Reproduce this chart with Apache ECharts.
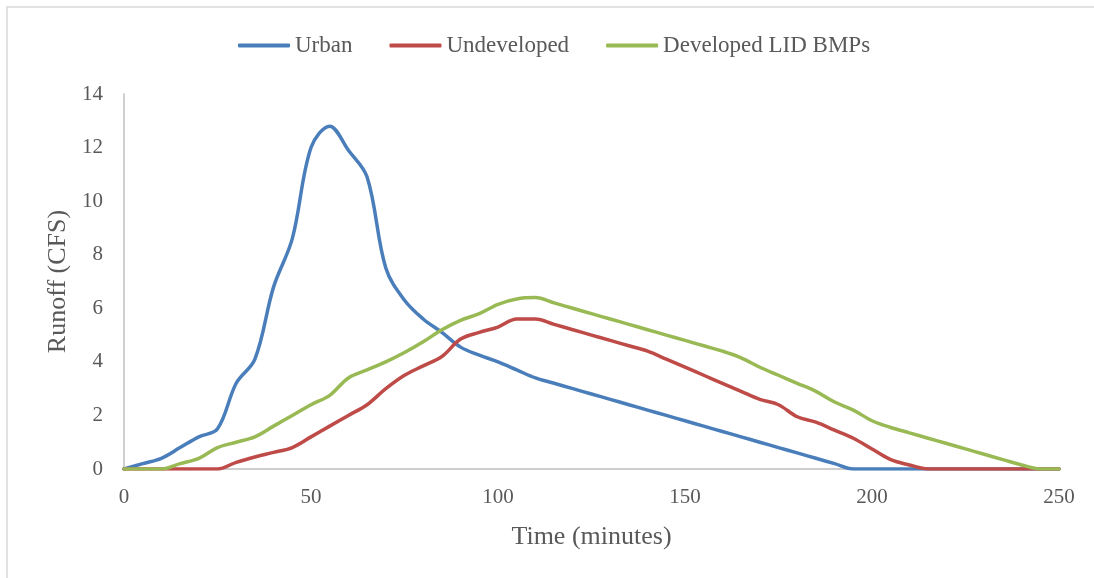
<!DOCTYPE html>
<html>
<head>
<meta charset="utf-8">
<script src="https://cdn.jsdelivr.net/npm/echarts@6/dist/echarts.min.js"></script>
<style>
  html, body { margin: 0; padding: 0; background: #fff; }
  #chart { width: 1094px; height: 578px; }
</style>
</head>
<body>
<div id="chart"></div>
<script>
// Time steps (minutes)
const times = [0,5,10,15,20,25,30,35,40,45,50,55,60,65,70,75,80,85,90,95,100,
  105,110,115,120,125,130,135,140,145,150,155,160,165,170,175,180,185,190,195,200,
  205,210,215,220,225,230,235,240,245,250];

// Runoff hydrographs (CFS)
const urban = [0,0.2,0.4,0.8,1.2,1.5,3.2,4.1,6.8,8.6,12.0,12.8,11.9,10.9,7.5,6.3,5.6,5.1,4.55,4.25,4.0,
  3.7,3.4,3.2,3.0,2.8,2.6,2.4,2.2,2.0,1.8,1.6,1.4,1.2,1.0,0.8,0.6,0.4,0.2,0,0,
  0,0,0,0,0,0,0,0,0,0];
const undeveloped = [0,0,0,0,0,0,0.25,0.45,0.62,0.8,1.2,1.6,2.0,2.4,3.0,3.5,3.85,4.2,4.85,5.1,5.3,
  5.6,5.6,5.4,5.2,5.0,4.8,4.6,4.4,4.1,3.8,3.5,3.2,2.9,2.6,2.4,1.95,1.75,1.45,1.15,0.75,
  0.35,0.15,0,0,0,0,0,0,0,0];
const developedLid = [0,0,0,0.2,0.4,0.8,1.0,1.2,1.6,2.0,2.4,2.75,3.4,3.7,4.0,4.35,4.75,5.2,5.55,5.8,6.15,
  6.35,6.4,6.2,6.0,5.8,5.6,5.4,5.2,5.0,4.8,4.6,4.4,4.15,3.8,3.5,3.2,2.9,2.5,2.2,1.8,
  1.55,1.35,1.15,0.95,0.75,0.55,0.35,0.15,0,0];

const seriesNames = ['Urban', 'Undeveloped', 'Developed LID BMPs'];
const seriesColors = ['#4A7EBB', '#BE4B48', '#98B954'];
const seriesValues = [urban, undeveloped, developedLid];

const textColor = '#595959';
const fontFamily = '"Liberation Serif", "Times New Roman", serif';

const chart = echarts.init(document.getElementById('chart'), null, { renderer: 'canvas' });

chart.setOption({
  backgroundColor: '#fff',
  animation: false,
  graphic: [{
    type: 'rect',
    shape: { x: 7, y: 7, width: 1100, height: 600 },
    style: { fill: 'none', stroke: '#D9D9D9', lineWidth: 1.5 },
    silent: true
  }],
  legend: {
    left: 233,
    top: 29,
    itemWidth: 52,
    itemHeight: 4,
    itemGap: 37,
    icon: 'roundRect',
    data: seriesNames,
    textStyle: { color: textColor, fontFamily: fontFamily, fontSize: 23 }
  },
  grid: { left: 124, right: 35, top: 94, bottom: 109, containLabel: false },
  xAxis: {
    type: 'value',
    min: 0,
    max: 250,
    interval: 50,
    name: 'Time (minutes)',
    nameLocation: 'middle',
    nameGap: 55,
    nameTextStyle: { color: textColor, fontFamily: fontFamily, fontSize: 26 },
    axisLine: { show: true, lineStyle: { color: '#BFBFBF', width: 1.5 } },
    axisTick: { show: false },
    splitLine: { show: false },
    axisLabel: { color: textColor, fontFamily: fontFamily, fontSize: 21, margin: 18 }
  },
  yAxis: {
    type: 'value',
    min: 0,
    max: 14,
    interval: 2,
    name: 'Runoff (CFS)',
    nameLocation: 'middle',
    nameGap: 49,
    nameTextStyle: { color: textColor, fontFamily: fontFamily, fontSize: 26 },
    axisLine: { show: true, lineStyle: { color: '#BFBFBF', width: 1.5 } },
    axisTick: { show: false },
    splitLine: { show: false },
    axisLabel: { color: textColor, fontFamily: fontFamily, fontSize: 21, margin: 21 }
  },
  series: seriesNames.map((name, i) => ({
    name: name,
    type: 'line',
    smooth: 0.35,
    symbol: 'none',
    color: seriesColors[i],
    lineStyle: { width: 3.5, color: seriesColors[i], cap: 'round', join: 'round' },
    data: times.map((t, k) => [t, seriesValues[i][k]])
  }))
});
</script>
</body>
</html>
